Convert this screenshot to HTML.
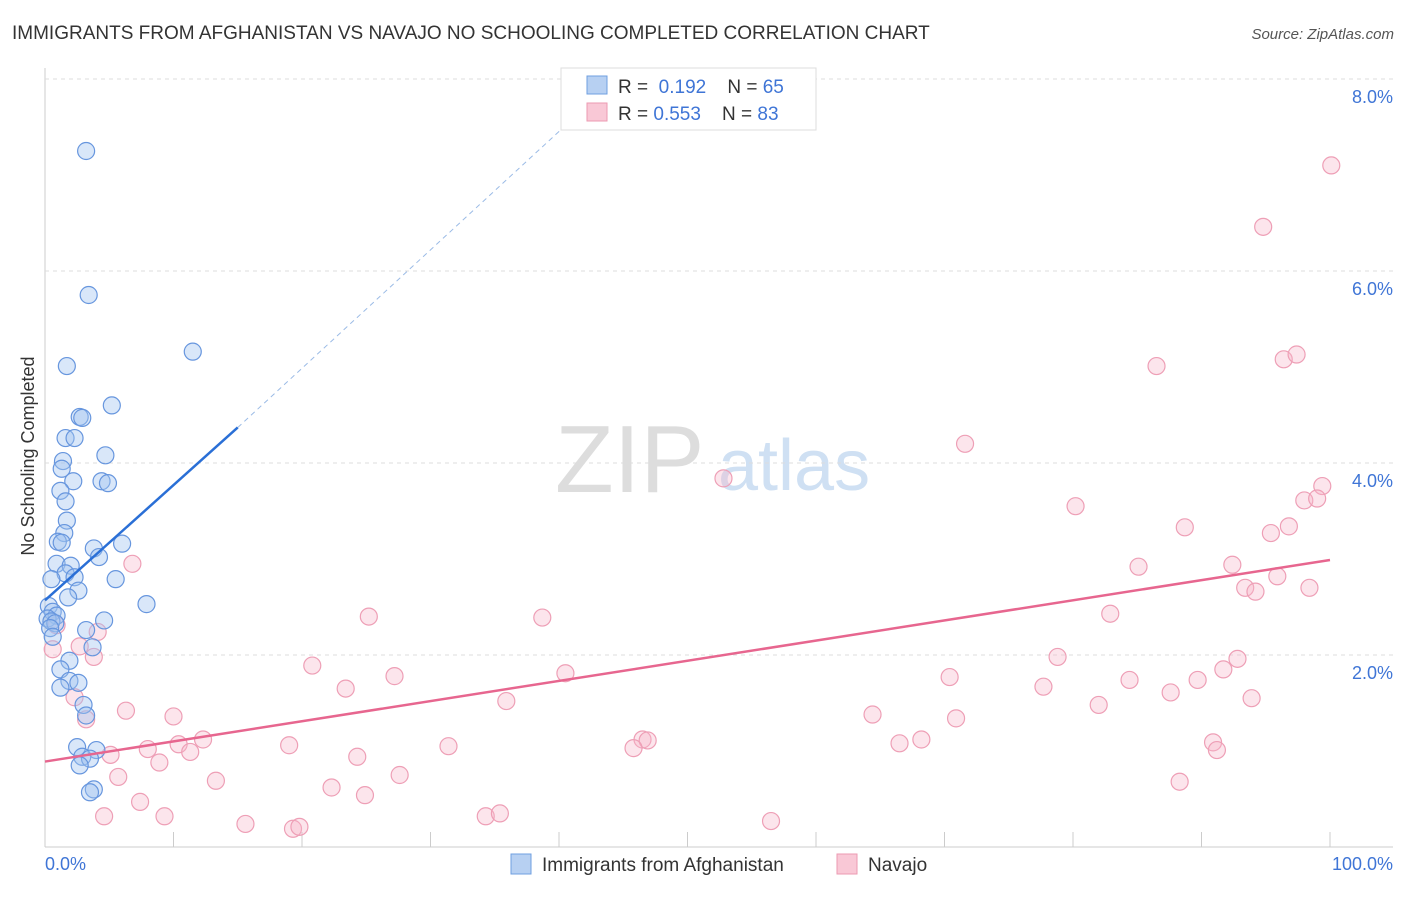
<!DOCTYPE html>
<html><head><meta charset="utf-8"><style>
body{margin:0;background:#fff;font-family:"Liberation Sans",sans-serif;}
svg text{font-family:"Liberation Sans",sans-serif;}
</style></head><body>
<svg id="chart" width="1406" height="892">
<text x="12" y="39" font-size="19" fill="#333">IMMIGRANTS FROM AFGHANISTAN VS NAVAJO NO SCHOOLING COMPLETED CORRELATION CHART</text>
<text x="1394" y="39" font-size="15" fill="#555" text-anchor="end" font-style="italic">Source: ZipAtlas.com</text>
<text x="0" y="0" transform="translate(34,456) rotate(-90)" font-size="18" fill="#333" text-anchor="middle">No Schooling Completed</text>
<text x="555" y="492" font-size="96" fill="#ddd" font-family="Liberation Serif">ZIP</text>
<text x="718" y="490" font-size="72" fill="#cfe0f3">atlas</text>
<g id="grid"></g><g id="pts"></g><g id="lines"></g>
<g>
<rect x="561" y="68" width="255" height="62" fill="#fff" stroke="#ddd"/>
<rect x="587" y="76" width="20" height="18" fill="#b7d0f2" stroke="#6f9fe0"/>
<rect x="587" y="103" width="20" height="18" fill="#f9c8d6" stroke="#ec9ab2"/>
<text x="618" y="93" font-size="19" fill="#333">R = <tspan fill="#3f75d6">&#160;0.192</tspan>&#160;&#160;&#160;&#160;N = <tspan fill="#3f75d6">65</tspan></text>
<text x="618" y="120" font-size="19" fill="#333">R = <tspan fill="#3f75d6">0.553</tspan>&#160;&#160;&#160;&#160;N = <tspan fill="#3f75d6">83</tspan></text>
</g>
<g>
<rect x="511" y="854" width="20" height="20" fill="#b7d0f2" stroke="#6f9fe0"/>
<text x="542" y="871" font-size="19" fill="#333">Immigrants from Afghanistan</text>
<rect x="837" y="854" width="20" height="20" fill="#f9c8d6" stroke="#ec9ab2"/>
<text x="868" y="871" font-size="19" fill="#333">Navajo</text>
</g>
<text x="45" y="870" font-size="18" fill="#3f75d6">0.0%</text>
<text x="1393" y="870" font-size="18" fill="#3f75d6" text-anchor="end">100.0%</text>
</svg>
<script>
const yTicks=[2,4,6,8];
const yTickLabels=["2.0%","4.0%","6.0%","8.0%"];
const blueX=[3.2,3.4,1.7,11.5,5.2,2.7,2.9,1.6,2.3,4.7,1.4,1.3,2.2,4.4,4.9,1.2,1.6,1.7,1.5,1.0,1.3,3.8,6.0,4.2,0.9,2.0,1.6,2.3,5.5,0.5,2.6,1.8,7.9,0.3,0.6,0.9,0.2,0.5,4.6,0.8,0.4,3.2,0.6,3.7,1.9,1.2,1.9,2.6,1.2,3.0,3.2,2.5,4.0,2.9,3.5,2.7,3.8,3.5];
const blueY=[7.25,5.75,5.01,5.16,4.6,4.48,4.47,4.26,4.26,4.08,4.02,3.94,3.81,3.81,3.79,3.71,3.6,3.4,3.27,3.18,3.17,3.11,3.16,3.02,2.95,2.93,2.85,2.81,2.79,2.79,2.67,2.6,2.53,2.51,2.45,2.41,2.38,2.35,2.36,2.33,2.28,2.26,2.19,2.08,1.94,1.85,1.73,1.71,1.66,1.48,1.37,1.04,1.01,0.94,0.92,0.85,0.6,0.57];
const pinkX=[100.1,94.8,96.4,97.4,86.5,71.6,52.8,99.4,98,99,80.2,88.7,95.4,96.8,6.8,85.1,92.4,95.9,93.4,94.2,98.4,25.2,38.7,82.9,4.1,0.9,0.6,2.7,3.8,20.8,78.8,92.8,40.5,91.7,27.2,70.4,23.4,77.7,84.4,89.7,87.6,93.9,2.3,35.9,6.3,10,3.2,64.4,70.9,82,12.3,10.4,8,5.1,19,31.4,46.5,46.9,45.8,66.5,68.2,11.3,90.9,91.2,24.3,8.9,5.7,27.6,13.3,22.3,88.3,24.9,7.4,9.3,4.6,15.6,19.3,19.8,34.3,35.4,56.5];
const pinkY=[7.1,6.46,5.08,5.13,5.01,4.2,3.84,3.76,3.61,3.63,3.55,3.33,3.27,3.34,2.95,2.92,2.94,2.82,2.7,2.66,2.7,2.4,2.39,2.43,2.24,2.31,2.06,2.09,1.98,1.89,1.98,1.96,1.81,1.85,1.78,1.77,1.65,1.67,1.74,1.74,1.61,1.55,1.56,1.52,1.42,1.36,1.33,1.38,1.34,1.48,1.12,1.07,1.02,0.96,1.06,1.05,1.12,1.11,1.03,1.08,1.12,0.99,1.09,1.01,0.94,0.88,0.73,0.75,0.69,0.62,0.68,0.54,0.47,0.32,0.32,0.24,0.19,0.21,0.32,0.35,0.27];
const blueLine=[[0,2.57],[15,4.37],[42,7.7]];
const pinkLine=[[0,0.89],[100,2.99]];
const X=v=>45+v*12.85, Y=v=>847-v*96;
const ns="http://www.w3.org/2000/svg";
function mk(t,a,p){const e=document.createElementNS(ns,t);for(const k in a)e.setAttribute(k,a[k]);p.appendChild(e);return e;}
const g=document.getElementById('grid');
mk('line',{x1:45,y1:68,x2:45,y2:847,stroke:'#ccc'},g);
mk('line',{x1:45,y1:847,x2:1393,y2:847,stroke:'#ccc'},g);
for(let i=0;i<=10;i++){const l=mk('line',{x1:X(i*10),y1:832,x2:X(i*10),y2:847,stroke:'#ccc'},g);

}
yTicks.forEach((t,i)=>{const l=mk('line',{x1:45,y1:Y(t),x2:1393,y2:Y(t),stroke:'#ddd','stroke-dasharray':'4,4'},g);


const tx=mk('text',{x:1393,y:Y(t)+24,'font-size':18,fill:'#3f75d6','text-anchor':'end'},g);tx.textContent=yTickLabels[i];

});
const p=document.getElementById('pts');
pinkX.forEach((x,i)=>{const c=mk('circle',{cx:X(x),cy:Y(pinkY[i]),r:8.5,fill:'rgba(246,180,200,0.35)',stroke:'#ee9fb6','stroke-width':1.2},p);

});
blueX.forEach((x,i)=>{const c=mk('circle',{cx:X(x),cy:Y(blueY[i]),r:8.5,fill:'rgba(160,195,240,0.4)',stroke:'#6796de','stroke-width':1.2},p);

});
const L=document.getElementById('lines');
let a=mk('line',{x1:X(blueLine[0][0]),y1:Y(blueLine[0][1]),x2:X(blueLine[1][0]),y2:Y(blueLine[1][1]),stroke:'#2a6fd6','stroke-width':2.5},L);


a=mk('line',{x1:X(blueLine[1][0]),y1:Y(blueLine[1][1]),x2:X(blueLine[2][0]),y2:Y(blueLine[2][1]),stroke:'#9bbbe6','stroke-width':1,'stroke-dasharray':'5,4'},L);


a=mk('line',{x1:X(pinkLine[0][0]),y1:Y(pinkLine[0][1]),x2:X(pinkLine[1][0]),y2:Y(pinkLine[1][1]),stroke:'#e7668f','stroke-width':2.5},L);


</script>
</body></html>
